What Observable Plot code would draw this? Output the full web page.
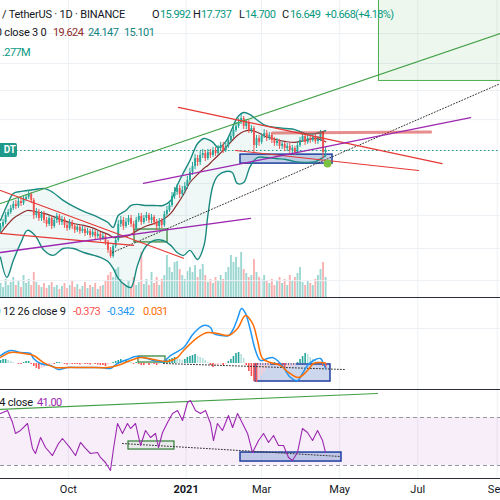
<!DOCTYPE html>
<html><head><meta charset="utf-8">
<script src="https://cdn.jsdelivr.net/npm/d3@7"></script>
<script src="https://cdn.jsdelivr.net/npm/@observablehq/plot@0.6"></script>
<style>
html,body{margin:0;padding:0;background:#fff;}
#chart{position:relative;width:500px;height:500px;overflow:hidden;background:#fff;font-family:Roboto,"Noto Sans",sans-serif;}
.layer{position:absolute;left:0;}
.layer svg{display:block;}
.t{position:absolute;font-size:11px;line-height:14px;color:#131722;white-space:nowrap;letter-spacing:-0.2px;}
.n{letter-spacing:-0.6px;}
.sep{position:absolute;left:0;width:500px;height:1px;background:#2a2e39;}
</style></head><body><div id="chart"></div>
<script>
// ---------- time base ----------
const startDate = Date.UTC(2020, 7, 9);
const day = d => new Date(startDate + d * 864e5);
const xDomain = [day(0), day(390.625)];
const candleStepDays = 2;

// ---------- price candles (2-day candles) ----------
const firstOpen = 3.69;
const closes = [3.97,4.28,4.89,5.17,5.58,6.02,5.79,6.37,6.13,6.61,
 6.86,7.26,6.49,4.89,5.17,4.62,4.98,4.45,4.13,4.62,
 3.97,4.45,4.80,4.28,4.53,4.05,3.83,4.28,3.97,3.69,
 3.90,3.62,3.75,3.48,3.62,3.35,3.55,3.29,3.42,3.17,
 3.29,2.94,2.53,2.26,2.72,3.05,4.13,4.45,3.97,4.28,
 4.62,4.13,3.83,4.45,4.80,4.28,4.62,4.89,4.45,4.71,
 4.28,3.97,4.37,4.05,4.98,5.37,5.90,7.00,7.54,8.14,
 7.26,7.83,8.45,9.46,11.0,12.3,14.3,13.3,15.15,15.7,
 14.3,16.0,15.15,16.65,15.7,17.3,18.3,16.65,18.0,20.1,
 21.7,24.3,26.2,28.2,30.4,26.2,28.2,24.3,25.2,18.3,
 20.9,19.4,21.7,22.9,20.9,22.1,20.1,19.0,19.7,18.0,
 18.7,17.3,18.0,16.65,17.3,16.0,18.3,20.1,21.7,19.4,
 20.9,20.1,21.3,19.7,20.5,23.4,15.992,16.649];
const highs = [4.20,4.53,5.17,5.48,5.90,6.37,6.49,6.73,6.86,7.00,
 7.26,7.83,7.54,6.73,5.58,5.48,5.27,5.27,4.71,4.89,
 4.80,4.71,5.08,4.98,4.80,4.71,4.28,4.53,4.45,4.13,
 4.13,4.05,3.97,3.90,3.83,3.75,3.75,3.69,3.62,3.55,
 3.48,3.42,3.05,2.67,2.88,3.23,4.45,4.80,4.71,4.62,
 4.89,4.89,4.37,4.71,5.08,5.08,4.89,5.17,5.08,4.98,
 4.89,4.53,4.62,4.62,5.27,5.79,6.37,7.54,8.29,8.77,
 8.61,8.45,9.10,10.2,11.9,13.3,15.4,15.15,16.3,17.0,
 16.65,17.0,17.0,17.6,17.6,18.3,19.4,19.4,19.0,21.3,
 22.9,25.7,28.2,30.4,32.8,31.6,29.8,29.3,26.7,26.2,
 22.1,22.1,22.9,24.7,24.3,23.4,22.9,21.3,20.9,20.5,
 19.7,19.4,19.0,19.0,18.3,18.0,19.4,21.3,22.9,22.5,
 22.1,22.1,22.5,22.5,21.7,24.3,23.8,17.737];
const lows = [3.55,3.83,4.13,4.71,4.98,5.37,5.48,5.58,5.79,5.90,
 6.37,6.61,6.13,4.53,4.62,4.37,4.37,4.20,3.90,3.97,
 3.75,3.83,4.20,4.05,4.05,3.83,3.62,3.69,3.75,3.48,
 3.55,3.42,3.48,3.29,3.35,3.17,3.23,3.11,3.17,2.99,
 3.05,2.78,2.39,2.18,2.18,2.62,2.94,3.90,3.69,3.83,
 4.05,3.90,3.29,3.62,4.28,4.05,4.13,4.37,4.20,4.20,
 4.05,3.69,3.75,3.83,3.90,4.80,5.17,5.69,6.61,7.13,
 6.73,6.86,7.40,7.98,9.10,10.4,11.6,12.3,12.55,14.3,
 13.5,13.8,14.3,14.6,14.9,15.15,16.65,15.7,16.0,17.3,
 19.4,20.9,23.4,25.2,27.2,24.7,24.7,22.9,22.9,16.0,
 17.3,18.0,18.7,20.9,19.7,20.1,19.0,18.0,18.0,17.0,
 17.0,16.3,16.3,15.7,15.7,15.15,15.4,17.6,19.4,18.3,
 18.7,19.0,19.4,18.7,18.7,19.7,14.3,14.700];
const volumes = [14,10,18,12,15,20,12,16,10,22,
 14,18,12,25,15,12,10,14,9,12,
 15,10,12,8,11,14,9,12,16,10,
 13,8,11,15,9,12,10,14,8,11,
 12,16,22,25,20,28,30,18,14,12,
 16,10,20,12,15,45,13,18,12,25,
 14,20,12,18,22,42,30,25,35,36,
 28,22,18,26,30,25,32,20,28,33,
 22,15,18,14,20,16,22,18,25,30,
 42,35,40,30,45,28,24,20,22,38,
 25,20,18,22,16,14,18,12,16,20,
 14,18,12,22,16,20,24,30,15,12,
 16,14,12,18,22,28,35,20];

// ---------- Bollinger bands ----------
const bbDays = [0,5,10,16,21,27,34,41,49,57,65,73,78,84,88,92,98,102,107,113,120,127,133,138,143,148,154,159,162,166,170,176,181,185,190,195,201,207,215,223,230,238,246,254];
const bbUpper = [4.45,5.90,7.40,7.69,7.83,7.98,8.14,7.54,6.49,5.79,5.27,4.89,4.62,4.28,3.90,4.89,5.37,5.90,6.02,5.90,5.90,5.90,6.49,8.61,11.0,13.8,19.0,20.9,20.5,19.4,17.6,19.7,25.2,31.0,34.1,32.8,29.3,26.7,25.7,25.2,24.7,22.9,22.9,24.147];
const bbBasis = [3.48,4.05,4.62,5.08,5.37,5.27,5.08,4.80,4.45,4.20,4.05,3.83,3.62,3.42,3.23,3.23,3.29,3.42,3.69,3.97,4.20,4.53,5.08,6.02,7.26,9.10,10.6,11.9,12.55,13.8,15.15,17.6,20.1,22.1,23.8,24.3,23.4,21.7,20.5,19.7,19.4,20.1,20.9,19.624];
const bbLower = [2.22,1.52,2.09,2.94,3.69,3.35,2.53,2.30,2.62,2.62,2.43,2.30,2.22,2.05,1.80,1.49,1.30,1.26,1.90,2.67,3.05,3.05,2.78,2.43,2.30,2.53,2.13,2.78,4.89,8.61,10.4,11.2,11.0,8.94,9.10,12.3,14.6,14.6,14.3,14.05,13.5,13.3,13.5,15.101];
const lastPrice = 16.649;

// ---------- price-pane drawings [day, price] ----------
const greenTrend = [[0,6.13],[390.625,151.4]];
const dottedTrend = [[87.5,2.43],[390.625,58.9]];
const redLineA = [[0,7.83],[143,2.18]];
const redLineB = [[0,3.48],[104,2.78]];
const redLineC = [[139,37.5],[345,13.0]];
const redFlat = [[212.5,23.2],[336,23.6]];
const redLineD = [[183.6,16.65],[326.6,11.42]];
const purpleA = [[0,2.43],[195.3,4.62]];
const purpleB = [[111.7,8.94],[367.2,31.0]];
const blueRectMain = {days:[187.5,259.4], prices:[13.0,15.4]};
const greenRectMain = {days:[104.7,130.5], prices:[2.94,3.75]};
const greenBox = {days:[295.3,390.625], prices:[62.4,282.06]};
const greenDot = [[255.5,13.0]];
const priceGrid = [1.43,2.62,4.89,8.94,16.65,29.8,51.6,86.0,151.4];

// ---------- MACD ----------
const macdDays = [0,7.8,15.6,23.4,25.8,31.3,39.1,45.3,52.3,60.2,68,78.1,85.9,91.4,99.2,105.5,111.7,119.5,127.3,132.8,143,150.8,158.6,164.1,166.4,171.9,178.1,181.3,185.2,188.3,191.4,195.3,199.2,203.1,208.6,212.5,216.4,221.1,226.6,232,235.9,239.8,244.5,250,252.3,253.9];
const macdVals = [0.58,0.95,0.80,0.73,0.36,0,-0.15,-0.44,-0.29,-0.29,-0.29,-0.29,-0.36,0,0.29,0.51,0.44,0.22,0.15,0.58,1.16,2.18,2.76,2.62,2.18,2.04,2.04,2.40,3.27,4.0,3.64,2.40,0.95,0.22,0.36,0.44,0.22,-0.29,-1.02,-1.24,-0.73,-0.15,0.22,0.36,0,-0.342];
const signalDays = [0,7.8,18,25.8,33.6,43,52.3,68,83.6,91.4,101.6,109.4,119.5,130.5,138.3,143,153.9,161.7,169.5,178.1,185.2,191.4,196.9,200.8,204.7,210.9,218.8,225,232.8,239.8,244.5,250,253.9];
const signalVals = [0.44,0.80,0.73,0.58,0.07,-0.29,-0.29,-0.29,-0.29,-0.15,0.22,0.44,0.29,0.15,0.44,0.95,1.89,2.25,2.18,2.04,2.55,3.49,2.91,1.67,0.36,0.07,-0.15,-0.65,-1.02,-0.51,0,0.07,0.031];
const histVals = [0.22,0.29,0.29,0.22,0.15,0.07,0,-0.07,-0.07,0.07,
 0.15,0.15,-0.07,-0.22,-0.36,-0.44,-0.36,-0.29,-0.22,-0.15,
 -0.07,-0.07,0.07,0.07,0.04,-0.07,-0.11,-0.07,-0.07,-0.07,
 -0.07,-0.11,-0.07,-0.07,-0.07,-0.11,-0.07,-0.07,-0.11,-0.15,
 -0.15,-0.22,-0.15,-0.07,0.07,0.15,0.22,0.29,0.22,0.22,
 0.15,0.07,-0.07,0.07,-0.07,-0.15,-0.15,-0.07,-0.15,-0.07,
 -0.07,-0.15,-0.07,0.07,0.15,0.22,0.29,0.36,0.44,0.36,
 0.29,0.22,0.29,0.44,0.51,0.58,0.65,0.51,0.44,0.36,
 0.22,0.07,-0.15,-0.29,-0.22,-0.15,-0.07,-0.15,-0.07,0.15,
 0.29,0.51,0.73,0.80,0.65,0.36,-0.15,-0.58,-0.95,-1.31,
 -1.38,-1.16,-0.87,-0.58,-0.29,-0.15,-0.07,0.07,-0.07,-0.15,
 -0.29,-0.44,-0.36,-0.29,-0.22,-0.15,0.07,0.29,0.51,0.73,
 0.65,0.44,0.29,0.22,0.15,0.07,-0.22,-0.373];
const macdGrid = [2.545];
const macdBlueRect = {days:[199.2,257.8], vals:[-1.31,-0.07]};
const macdGreenRect = {days:[107.8,128.9], vals:[0.07,0.51]};
const macdDotted = [[127.3,0],[269.5,-0.44]];

// ---------- RSI ----------
const rsiDays = [0,5.5,9.4,11.7,15.6,21.1,25,27.3,31.3,35.2,40.6,45.3,48.4,54.7,58.6,62.5,66.4,70.3,75.8,78.1,82,85.9,88.3,91.4,95.3,99.2,101.6,105.5,109.4,113.3,117.2,121.1,123.4,126.6,130.5,134.4,138.3,142.2,146.1,148.4,152.3,156.3,160.2,164.1,166.4,169.5,173.4,178.1,181.3,185.2,189.1,193,196.9,201.6,205.5,209.4,213.3,217.2,221.1,225,228.1,232,235.9,239.8,243.8,247.7,251.6,253.9];
const rsiVals = [73.3,75.8,65.8,56.7,59.2,65.0,44.2,40.0,53.3,45.0,38.3,48.3,52.5,44.2,38.3,49.2,44.2,40.0,40.8,36.7,32.5,25.8,44.2,65.0,56.7,65.0,60.8,65.0,46.7,59.2,53.3,56.7,45.0,57.5,65.8,73.3,75.8,67.5,82.5,84.2,75.8,73.3,75.8,65.0,50.8,65.0,59.2,71.7,61.7,73.3,65.0,56.7,40.8,50.8,56.7,49.2,55.0,46.7,46.7,36.7,34.2,40.8,60.8,57.5,50.8,59.2,50.8,41.0];
const rsiBands = [30,70];
const rsiGreenLine = [[0,76.7],[294.5,90]];
const rsiGreenRect = {days:[100,135.9], vals:[43.3,50]};
const rsiDotted = [[95.3,48.3],[265.6,37.5]];
const rsiBlueRect = {days:[187.5,266.4], vals:[33.3,40.8]};

// ---------- time ticks ----------
const tickDates = ["2020-10-01","2021-01-01","2021-03-01","2021-05-01","2021-07-01","2021-09-01"].map(s=>new Date(s+"T00:00:00Z"));
const tickLabels = ["Oct","2021","Mar","May","Jul","Sep"];

// ---------- build ----------
const UP = "#26a69a", DOWN = "#ef5350", GRID = "#edf0f5";
const chart = document.getElementById("chart");
const candles = closes.map((c,i)=>{
  const o = i===0 ? firstOpen : closes[i-1];
  return {date: day(i*candleStepDays), open:o, close:c, high:highs[i], low:lows[i], vol:volumes[i], up:c>=o};
});
const bb = bbDays.map((d,i)=>({date:day(d), upper:bbUpper[i], basis:bbBasis[i], lower:bbLower[i]}));
const pts = arr => arr.map(([d,v])=>({date:day(d), v}));
const rectOf = r => [{x1:day(r.days[0]), x2:day(r.days[1]), y1:(r.prices||r.vals)[0], y2:(r.prices||r.vals)[1]}];
const xOpt = {type:"utc", domain:xDomain, axis:null};
const base = {width:500, marginTop:0, marginRight:0, marginBottom:0, marginLeft:0, style:{background:"transparent"}};
function place(node, top){ const d=document.createElement("div"); d.className="layer"; d.style.top=top+"px"; d.appendChild(node); chart.appendChild(d); }

// volume layer
place(Plot.plot({...base, height:57, x:xOpt, y:{domain:[0,57], axis:null},
  marks:[Plot.ruleX(candles,{x:"date", y1:0, y2:"vol", stroke:d=>d.up?"rgba(38,166,154,0.45)":"rgba(239,83,80,0.45)", strokeWidth:1.9})]
}), 240);

// price layer
place(Plot.plot({...base, height:297, x:xOpt, y:{type:"log", domain:[1.0397,282.06], axis:null},
  marks:[
    Plot.ruleY(priceGrid,{stroke:GRID}),
    Plot.ruleX(tickDates,{stroke:GRID}),
    Plot.areaY(bb,{x:"date", y1:"lower", y2:"upper", fill:"#2a9d8f", fillOpacity:0.07, curve:"catmull-rom"}),
    Plot.rect(rectOf(greenBox),{x1:"x1",x2:"x2",y1:"y1",y2:"y2", fill:"#4caf50", fillOpacity:0.1}),
    Plot.ruleX([day(greenBox.days[0])],{y1:greenBox.prices[0], y2:greenBox.prices[1], stroke:"#4caf50"}),
    Plot.ruleY([greenBox.prices[0]],{x1:day(greenBox.days[0]), x2:day(greenBox.days[1]), stroke:"#4caf50"}),
    Plot.rect(rectOf(blueRectMain),{x1:"x1",x2:"x2",y1:"y1",y2:"y2", fill:"#7f98d0", fillOpacity:0.45, stroke:"#1f3f9e", strokeWidth:1.5}),
    Plot.rect(rectOf(greenRectMain),{x1:"x1",x2:"x2",y1:"y1",y2:"y2", fill:"#4caf50", fillOpacity:0.06, stroke:"#2e7d32", strokeWidth:1.2}),
    Plot.ruleY([lastPrice],{stroke:"#1e9a8a", strokeDasharray:"1.5,2.5"}),
    Plot.line(bb,{x:"date", y:"upper", stroke:"#1a8a80", strokeWidth:1.4, curve:"catmull-rom"}),
    Plot.line(bb,{x:"date", y:"lower", stroke:"#1a8a80", strokeWidth:1.4, curve:"catmull-rom"}),
    Plot.line(bb,{x:"date", y:"basis", stroke:"#8d2b2b", strokeWidth:1.2, curve:"catmull-rom"}),
    Plot.ruleX(candles,{x:"date", y1:"low", y2:"high", stroke:d=>d.up?UP:DOWN, strokeWidth:1}),
    Plot.ruleX(candles,{x:"date", y1:"open", y2:"close", stroke:d=>d.up?UP:DOWN, strokeWidth:1.9}),
    Plot.line(pts(greenTrend),{x:"date", y:"v", stroke:"#43a047", strokeWidth:1.2}),
    Plot.line(pts(dottedTrend),{x:"date", y:"v", stroke:"#333", strokeWidth:1, strokeDasharray:"1,2"}),
    Plot.line(pts(redLineA),{x:"date", y:"v", stroke:"#e53935", strokeWidth:1.2}),
    Plot.line(pts(redLineB),{x:"date", y:"v", stroke:"#e53935", strokeWidth:1.2}),
    Plot.line(pts(redLineC),{x:"date", y:"v", stroke:"#e53935", strokeWidth:1.2}),
    Plot.line(pts(redFlat),{x:"date", y:"v", stroke:"#d32f2f", strokeOpacity:0.55, strokeWidth:3}),
    Plot.line(pts(redLineD),{x:"date", y:"v", stroke:"#e53935", strokeWidth:1.2}),
    Plot.line(pts(purpleA),{x:"date", y:"v", stroke:"#9c27b0", strokeWidth:1.3}),
    Plot.line(pts(purpleB),{x:"date", y:"v", stroke:"#9c27b0", strokeWidth:1.3}),
    Plot.dot(pts(greenDot),{x:"date", y:"v", r:4, fill:"#7cc242", stroke:"none"})
  ]
}), 0);

// MACD layer
const hist = histVals.map((h,i)=>{
  const p = i===0 ? 0 : histVals[i-1];
  const color = h>=0 ? (h>=p ? "#26a69a" : "#b2dfdb") : (h<=p ? "#ff5252" : "#ffcdd2");
  return {date:day(i*candleStepDays), h, color};
});
place(Plot.plot({...base, height:91, x:xOpt, y:{domain:[-1.891,4.727], axis:null},
  marks:[
    Plot.ruleY(macdGrid,{stroke:GRID}),
    Plot.ruleX(tickDates,{stroke:GRID}),
    Plot.rect(rectOf(macdBlueRect),{x1:"x1",x2:"x2",y1:"y1",y2:"y2", fill:"#7f98d0", fillOpacity:0.4, stroke:"#1f3f9e", strokeWidth:1.5}),
    Plot.rect(rectOf(macdGreenRect),{x1:"x1",x2:"x2",y1:"y1",y2:"y2", fill:"#4caf50", fillOpacity:0.06, stroke:"#2e7d32", strokeWidth:1.2}),
    Plot.ruleX(hist,{x:"date", y1:0, y2:"h", stroke:"color", strokeWidth:1.6}),
    Plot.line(pts(macdDotted),{x:"date", y:"v", stroke:"#333", strokeWidth:1, strokeDasharray:"1,2"}),
    Plot.line(macdDays.map((d,i)=>({date:day(d), v:macdVals[i]})),{x:"date", y:"v", stroke:"#2196f3", strokeWidth:1.5, curve:"catmull-rom"}),
    Plot.line(signalDays.map((d,i)=>({date:day(d), v:signalVals[i]})),{x:"date", y:"v", stroke:"#ff6d00", strokeWidth:1.5, curve:"catmull-rom"})
  ]
}), 298);

// RSI layer with time axis
const tickLabelFor = new Map(tickDates.map((d,i)=>[+d, tickLabels[i]]));
const rsiSvg = Plot.plot({...base, height:111, marginBottom:22,
  style:{background:"transparent", fontSize:"11px", fontFamily:"Roboto, 'Noto Sans', sans-serif", color:"#131722"},
  x:{type:"utc", domain:xDomain, ticks:tickDates, tickFormat:d=>tickLabelFor.get(+d) ?? "", tickSize:0, tickPadding:7, label:null},
  y:{domain:[19.17,93.33], axis:null},
  marks:[
    Plot.ruleX(tickDates,{stroke:GRID}),
    Plot.rect([rsiBands],{y1:d=>d[0], y2:d=>d[1], fill:"#9c27b0", fillOpacity:0.08}),
    Plot.ruleY(rsiBands,{stroke:"#9598a1", strokeDasharray:"4,3"}),
    Plot.rect(rectOf(rsiGreenRect),{x1:"x1",x2:"x2",y1:"y1",y2:"y2", fill:"#4caf50", fillOpacity:0.08, stroke:"#2e7d32", strokeWidth:1.2}),
    Plot.rect(rectOf(rsiBlueRect),{x1:"x1",x2:"x2",y1:"y1",y2:"y2", fill:"#7f98d0", fillOpacity:0.45, stroke:"#1f3f9e", strokeWidth:1.5}),
    Plot.line(pts(rsiDotted),{x:"date", y:"v", stroke:"#333", strokeWidth:1, strokeDasharray:"1,2"}),
    Plot.line(pts(rsiGreenLine),{x:"date", y:"v", stroke:"#43a047", strokeWidth:1.2}),
    Plot.line(rsiDays.map((d,i)=>({date:day(d), v:rsiVals[i]})),{x:"date", y:"v", stroke:"#9c27b0", strokeWidth:1.1})
  ]
});
d3.select(rsiSvg).selectAll("text").filter(function(){return this.textContent==="2021";}).attr("font-weight","bold");
place(rsiSvg, 389);

// separators
[297, 389, 478].forEach(t=>{const s=document.createElement("div"); s.className="sep"; s.style.top=t+"px"; chart.appendChild(s);});

// price label
const lbl=document.createElement("div");
lbl.style.cssText="position:absolute;left:0;top:143px;height:14px;width:16px;background:#1f9a8a;color:#fff;font:bold 10px Roboto,sans-serif;line-height:14px;text-align:right;padding-right:1px;border-radius:0 2px 2px 0;";
lbl.textContent="DT"; chart.appendChild(lbl);

// legend texts
function txt(s, left, cy, color, num){const d=document.createElement("div"); d.className="t"+(num?" n":""); d.textContent=s; d.style.left=left+"px"; d.style.top=(cy-7)+"px"; if(color) d.style.color=color; chart.appendChild(d);}
const G="#089981";
txt("/ TetherUS · 1D · BINANCE", 2, 15);
txt("O", 152, 15); txt("15.992", 160, 15, G, 1);
txt("H", 193, 15); txt("17.737", 201, 15, G, 1);
txt("L", 239, 15); txt("14.700", 245, 15, G, 1);
txt("C", 282, 15); txt("16.649", 290, 15, G, 1);
txt("+0.668", 325, 15, G, 1); txt("(+4.18%)", 355, 15, G, 1);
txt("BB 20 close 3 0", -26, 33);
txt("19.624", 53, 33, "#8d2b2b", 1); txt("24.147", 88, 33, "#138484", 1); txt("15.101", 124, 33, "#138484", 1);
txt(".277M", 2, 53, G, 1);
txt("MACD 12 26 close 9", -30, 312);
txt("-0.373", 73, 312, "#ff5252", 1); txt("-0.342", 107, 312, "#2196f3", 1); txt("0.031", 143, 312, "#ff6d00", 1);
txt("RSI 14 close", -25, 403);
txt("41.00", 37, 403, "#9c27b0", 1);
</script></body></html>
